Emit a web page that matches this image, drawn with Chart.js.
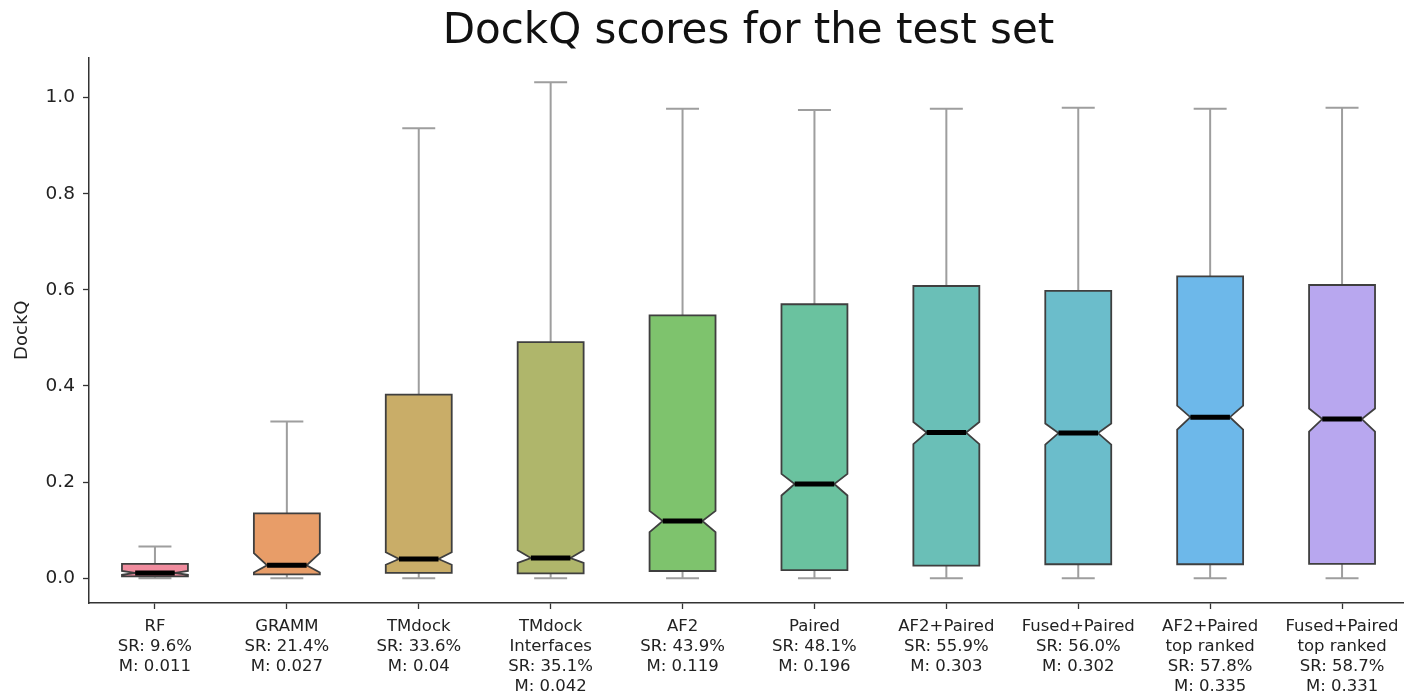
<!DOCTYPE html>
<html>
<head>
<meta charset="utf-8">
<title>DockQ scores for the test set</title>
<script src="https://cdn.jsdelivr.net/npm/chart.js@4.4.1/dist/chart.umd.min.js"></script>
<style>
  html, body { margin: 0; padding: 0; background: #fff; overflow: hidden; }
  #wrap { width: 1412px; height: 694px; }
</style>
</head>
<body>
<div id="wrap"><canvas id="myChart"></canvas></div>
<script>
// one entry per method, left to right
const methods = [["RF"], ["GRAMM"], ["TMdock"], ["TMdock", "Interfaces"], ["AF2"], ["Paired"],
  ["AF2+Paired"], ["Fused+Paired"], ["AF2+Paired", "top ranked"], ["Fused+Paired", "top ranked"]]
const successRate = ["9.6%", "21.4%", "33.6%", "35.1%", "43.9%", "48.1%", "55.9%", "56.0%", "57.8%", "58.7%"]

// box plot stats (DockQ)
const whiskerLow  = [0.0,   0.0,   0.0,   0.0,   0.0,   0.0,   0.0,   0.0,   0.0,   0.0]
const q1          = [0.004, 0.008, 0.011, 0.010, 0.015, 0.017, 0.026, 0.029, 0.029, 0.030]
const notchLow    = [0.007, 0.012, 0.028, 0.032, 0.096, 0.172, 0.279, 0.278, 0.309, 0.305]
const medians     = [0.011, 0.027, 0.04,  0.042, 0.119, 0.196, 0.303, 0.302, 0.335, 0.331]
const notchHigh   = [0.015, 0.052, 0.054, 0.058, 0.140, 0.217, 0.325, 0.322, 0.359, 0.353]
const q3          = [0.030, 0.135, 0.382, 0.491, 0.547, 0.570, 0.608, 0.598, 0.628, 0.610]
const whiskerHigh = [0.066, 0.326, 0.936, 1.032, 0.977, 0.974, 0.977, 0.979, 0.977, 0.979]

const yTicks = [0, 0.2, 0.4, 0.6, 0.8, 1.0]

const boxColors = ["#f08c9e", "#e89d68", "#c9ad68", "#afb66b", "#7ec36d",
  "#6ac29f", "#6abfb7", "#6bbdcb", "#6db8ea", "#b8a7ef"]

const FONT = "'DejaVu Sans', sans-serif"

const labels = methods.map((m, i) => m.concat(["SR: " + successRate[i], "M: " + medians[i]]))

// draws notched boxes, whiskers and medians on top of the (invisible) bars
const notchedBoxes = {
  id: 'notchedBoxes',
  afterDatasetsDraw(chart) {
    const x = chart.scales.x
    const y = chart.scales.y
    const ctx = chart.ctx
    const step = x.getPixelForValue(1) - x.getPixelForValue(0)
    const half = step * 0.25
    const waist = half * 0.6

    ctx.save()
    for (let i = 0; i < methods.length; i++) {
      const xc = x.getPixelForValue(i)
      const yQ1 = y.getPixelForValue(q1[i])
      const yQ3 = y.getPixelForValue(q3[i])
      const yLo = y.getPixelForValue(whiskerLow[i])
      const yHi = y.getPixelForValue(whiskerHigh[i])
      const yMed = y.getPixelForValue(medians[i])
      const yNLo = y.getPixelForValue(notchLow[i])
      const yNHi = y.getPixelForValue(notchHigh[i])

      // whiskers + caps
      ctx.strokeStyle = '#9e9e9e'
      ctx.lineWidth = 2
      ctx.lineCap = 'butt'
      ctx.beginPath()
      ctx.moveTo(xc, yQ3); ctx.lineTo(xc, yHi)
      ctx.moveTo(xc, yQ1); ctx.lineTo(xc, yLo)
      ctx.moveTo(xc - half / 2, yHi); ctx.lineTo(xc + half / 2, yHi)
      ctx.moveTo(xc - half / 2, yLo); ctx.lineTo(xc + half / 2, yLo)
      ctx.stroke()

      // box with notch
      const xl = xc - half, xr = xc + half
      ctx.beginPath()
      ctx.moveTo(xl, yQ1)
      ctx.lineTo(xl, yNLo)
      ctx.lineTo(xc - waist, yMed)
      ctx.lineTo(xl, yNHi)
      ctx.lineTo(xl, yQ3)
      ctx.lineTo(xr, yQ3)
      ctx.lineTo(xr, yNHi)
      ctx.lineTo(xc + waist, yMed)
      ctx.lineTo(xr, yNLo)
      ctx.lineTo(xr, yQ1)
      ctx.closePath()
      ctx.fillStyle = boxColors[i]
      ctx.fill()
      ctx.strokeStyle = '#3f3f3f'
      ctx.lineWidth = 1.8
      ctx.lineJoin = 'miter'
      ctx.stroke()

      // median
      ctx.strokeStyle = '#000'
      ctx.lineWidth = 5
      ctx.beginPath()
      ctx.moveTo(xc - waist, yMed)
      ctx.lineTo(xc + waist, yMed)
      ctx.stroke()
    }
    ctx.restore()
  }
}

const ctx = document.getElementById('myChart').getContext('2d')
const chart = new Chart(ctx, {
  type: 'bar',
  data: {
    labels: labels,
    datasets: [{
      label: 'DockQ',
      data: methods.map((m, i) => [q1[i], q3[i]]),
      backgroundColor: 'rgba(0,0,0,0)',
      borderWidth: 0
    }]
  },
  options: {
    responsive: true,
    maintainAspectRatio: false,
    animation: false,
    layout: { padding: { left: 0, right: 4, top: 0, bottom: 0 } },
    plugins: {
      legend: { display: false },
      tooltip: { enabled: false },
      title: {
        display: true,
        text: 'DockQ scores for the test set',
        fullSize: false,
        color: '#111',
        font: { family: FONT, size: 42, weight: 'normal' },
        padding: { top: 7, bottom: 0 }
      }
    },
    scales: {
      x: {
        grid: { drawOnChartArea: false, offset: false, tickLength: 6, tickColor: '#333', tickWidth: 1.3 },
        border: { display: true, color: '#333', width: 1.5 },
        ticks: {
          color: '#222',
          font: { family: FONT, size: 16.5 },
          padding: 8,
          maxRotation: 0,
          autoSkip: false
        },
        afterFit: (s) => { s.height = 91 }
      },
      y: {
        min: -0.0516,
        max: 1.0836,
        afterBuildTicks: (s) => { s.ticks = yTicks.map(v => ({ value: v })) },
        grid: { drawOnChartArea: false, tickLength: 6, tickColor: '#333', tickWidth: 1.3 },
        border: { display: true, color: '#333', width: 1.5 },
        ticks: {
          color: '#222',
          font: { family: FONT, size: 18.5 },
          padding: 8,
          callback: (v) => v.toFixed(1)
        },
        title: {
          display: true,
          text: 'DockQ',
          color: '#222',
          font: { family: FONT, size: 18 },
          padding: { top: 12, bottom: 0 }
        },
        afterFit: (s) => { s.width = 89 }
      }
    }
  },
  plugins: [notchedBoxes]
})
</script>
</body>
</html>
